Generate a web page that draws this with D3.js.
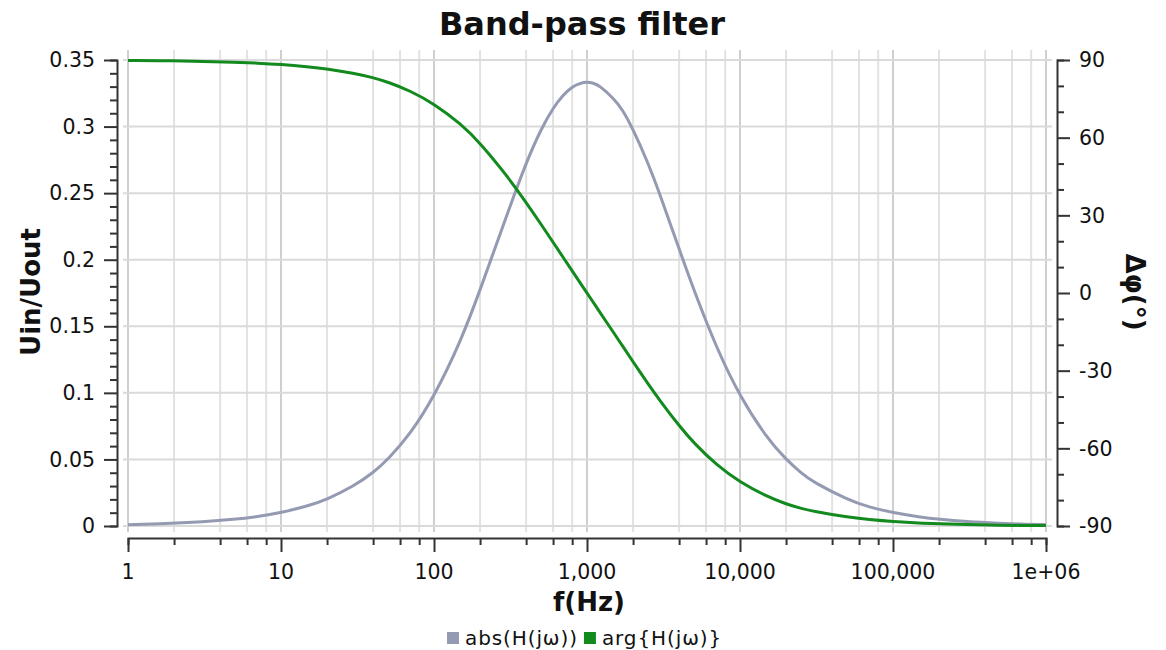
<!DOCTYPE html>
<html>
<head>
<meta charset="utf-8">
<script src="https://cdn.jsdelivr.net/npm/d3@7"></script>
<style>
  body { margin: 0; background: #fff; }
  svg text { font-family: "DejaVu Sans", sans-serif; fill: #111; }
</style>
</head>
<body>
<svg id="chart" width="1166" height="650"></svg>
<script>
// Frequencies (Hz)
const freqs = [1, 2, 3, 5, 7, 10, 15, 20, 30, 40, 50, 70, 100, 150, 200, 300, 400, 500, 600, 700, 800, 900, 1000,
  1100, 1200, 1500, 1700, 2000, 2500, 3000, 4000, 5000, 7000, 10000, 15000, 20000, 25000, 30000, 50000, 70000,
  100000, 150000, 200000, 300000, 500000, 700000, 1000000];

// abs(H(jw)) - left axis
const absValues = [0.001, 0.002, 0.003, 0.005, 0.007, 0.010, 0.015, 0.020, 0.030, 0.040, 0.050, 0.069, 0.097, 0.139, 0.177, 0.234, 0.273, 0.298, 0.314, 0.324, 0.330, 0.3325, 0.3336,
  0.3326, 0.331, 0.321, 0.313, 0.298, 0.273, 0.249, 0.208, 0.177, 0.134, 0.097, 0.066, 0.050, 0.040, 0.033, 0.020, 0.014,
  0.010, 0.0067, 0.005, 0.0033, 0.002, 0.0014, 0.001];

// arg{H(jw)} in degrees - right axis
const argValues = [89.8, 89.7, 89.5, 89.1, 88.8, 88.3, 87.4, 86.6, 84.9, 83.2, 81.5, 78.1, 73.1, 65.3, 58.0, 45.3, 35.0, 26.6, 19.6, 13.7, 8.5, 4.0, 0,
  -3.6, -7.0, -15.5, -20.3, -26.6, -35.0, -41.6, -51.3, -58.0, -66.4, -73.1, -78.6, -81.5, -83.2, -84.3, -86.6, -87.5,
  -88.3, -88.9, -89.1, -89.4, -89.7, -89.8, -89.8];

const xTickLabels = ["1", "10", "100", "1,000", "10,000", "100,000", "1e+06"];
const leftTicks = [0, 0.05, 0.1, 0.15, 0.2, 0.25, 0.3, 0.35];
const rightTicks = [-90, -60, -30, 0, 30, 60, 90];

const absColor = "#959ab3";
const argColor = "#128a1e";

const svg = d3.select("#chart");

const x = d3.scaleLog().domain([1, 1e6]).range([128, 1046]);
const yL = d3.scaleLinear().domain([0, 0.35]).range([526, 60]);
const yR = d3.scaleLinear().domain([-90, 90]).range([526, 60]);

// minor log ticks: 1,2,4,6,8 per decade
const logTicks = [];
for (let e = 0; e < 6; e++) {
  [1, 2, 4, 6, 8].forEach(m => logTicks.push(m * Math.pow(10, e)));
}
logTicks.push(1e6);
const decades = d3.range(0, 7).map(e => Math.pow(10, e));

// grid
const grid = svg.append("g");
grid.selectAll(".vg")
  .data(logTicks)
  .enter().append("line")
  .attr("x1", d => x(d)).attr("x2", d => x(d))
  .attr("y1", 50).attr("y2", 532)
  .attr("stroke", d => decades.includes(d) ? "#cfcfcf" : "#e2e2e2")
  .attr("stroke-width", 2);
grid.selectAll(".hg")
  .data(leftTicks)
  .enter().append("line")
  .attr("x1", 123).attr("x2", 1052)
  .attr("y1", d => yL(d)).attr("y2", d => yL(d))
  .attr("stroke", "#dadada")
  .attr("stroke-width", 2);

// axes
const axisColor = "#333";
const tickFont = "20.5px";

const leftAxis = svg.append("g").attr("transform", "translate(117,0)");
leftAxis.call(d3.axisLeft(yL).tickValues(d3.range(0, 0.3501, 0.01)).tickSize(7).tickFormat(""));
leftAxis.call(g => g.selectAll(".tick").filter(d => leftTicks.some(t => Math.abs(t - d) < 1e-6))
  .select("line").attr("x2", -13));
leftAxis.append("g").selectAll("text")
  .data(leftTicks)
  .enter().append("text")
  .attr("x", -22).attr("y", d => yL(d))
  .attr("dy", "0.35em")
  .attr("text-anchor", "end")
  .style("font-size", tickFont)
  .text(d => d === 0 ? "0" : d3.format("")(+d.toFixed(2)));

const rightAxis = svg.append("g").attr("transform", "translate(1057,0)");
rightAxis.call(d3.axisRight(yR).tickValues(d3.range(-90, 91, 10)).tickSize(7).tickFormat(""));
rightAxis.call(g => g.selectAll(".tick").filter(d => d % 30 === 0)
  .select("line").attr("x2", 13));
rightAxis.append("g").selectAll("text")
  .data(rightTicks)
  .enter().append("text")
  .attr("x", 22).attr("y", d => yR(d))
  .attr("dy", "0.35em")
  .style("font-size", tickFont)
  .text(d => d);

const bottomAxis = svg.append("g").attr("transform", "translate(0,538)");
bottomAxis.call(d3.axisBottom(x).tickValues(logTicks).tickSize(7).tickFormat(""));
bottomAxis.call(g => g.selectAll(".tick").filter(d => decades.includes(d))
  .select("line").attr("y2", 14));
bottomAxis.append("g").selectAll("text")
  .data(decades)
  .enter().append("text")
  .attr("x", d => x(d)).attr("y", 34)
  .attr("dy", "0.35em")
  .attr("text-anchor", "middle")
  .style("font-size", tickFont)
  .text((d, i) => xTickLabels[i]);

[leftAxis, rightAxis, bottomAxis].forEach(g => {
  g.selectAll(".domain").attr("stroke", axisColor).attr("stroke-width", 2);
  g.selectAll(".tick line").attr("stroke", axisColor).attr("stroke-width", 2);
});

// lines
const absLine = d3.line()
  .x((d, i) => x(freqs[i]))
  .y(d => yL(d))
  .curve(d3.curveBasis);
const argLine = d3.line()
  .x((d, i) => x(freqs[i]))
  .y(d => yR(d))
  .curve(d3.curveBasis);

svg.append("path")
  .datum(absValues)
  .attr("d", absLine)
  .attr("fill", "none")
  .attr("stroke", absColor)
  .attr("stroke-width", 3);

svg.append("path")
  .datum(argValues)
  .attr("d", argLine)
  .attr("fill", "none")
  .attr("stroke", argColor)
  .attr("stroke-width", 3);

// titles
svg.append("text")
  .attr("x", 582).attr("y", 35)
  .attr("text-anchor", "middle")
  .style("font-size", "32px").style("font-weight", "bold")
  .text("Band-pass filter");

svg.append("text")
  .attr("x", 589).attr("y", 611)
  .attr("text-anchor", "middle")
  .style("font-size", "26px").style("font-weight", "bold")
  .text("f(Hz)");

svg.append("text")
  .attr("transform", "translate(40,292) rotate(-90)")
  .attr("text-anchor", "middle")
  .style("font-size", "26px").style("font-weight", "bold")
  .text("Uin/Uout");

svg.append("text")
  .attr("transform", "translate(1126,292) rotate(90)")
  .attr("text-anchor", "middle")
  .style("font-size", "26px").style("font-weight", "bold")
  .text("Δφ(°)");

// legend
const legendItems = [
  { label: "abs(H(jω))", color: absColor },
  { label: "arg{H(jω)}", color: argColor }
];
const legend = svg.append("g").attr("transform", "translate(447,638)");
let lx = 0;
legendItems.forEach(item => {
  legend.append("rect")
    .attr("x", lx).attr("y", -6)
    .attr("width", 12).attr("height", 12)
    .attr("fill", item.color);
  const t = legend.append("text")
    .attr("x", lx + 18).attr("y", 0)
    .attr("dy", "0.35em")
    .style("font-size", "20px")
    .style("letter-spacing", "0.9px")
    .text(item.label);
  lx += 18 + t.node().getComputedTextLength() + 6;
});
</script>
</body>
</html>
